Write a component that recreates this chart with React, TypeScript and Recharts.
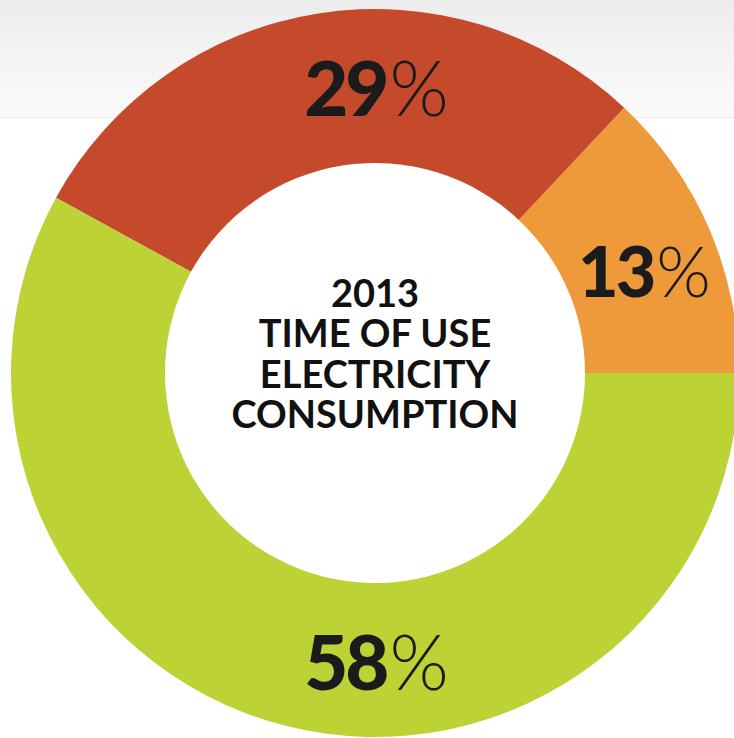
import React from "react";
import { PieChart, Pie, Cell } from "recharts";

const categories = ["Off-peak", "Mid-peak", "On-peak"];
const shares = [13, 29, 58];
const colors = ["#EE9A3A", "#C54A2C", "#BCD235"];
const centerLines = ["2013", "TIME OF USE", "ELECTRICITY", "CONSUMPTION"];

const data = categories.map((name, i) => ({ name, value: shares[i] }));

// angular nudges (degrees) for label placement, per slice index
const labelNudge = [-2.4, -9, 14.4];

const RADIAN = Math.PI / 180;

const renderLabel = (props: any) => {
  const { cx, cy, midAngle, innerRadius, outerRadius, index, value } = props;
  const r = (innerRadius + outerRadius) / 2;
  const a = (midAngle + labelNudge[index]) * RADIAN;
  const x = cx + r * Math.cos(a);
  const y = cy - r * Math.sin(a);
  return (
    <g>
      <text
        x={x}
        y={y}
        textAnchor="middle"
        dominantBaseline="central"
        fill="#1b1b1b"
        fontFamily="Lato, sans-serif"
        fontSize={index === 0 ? 70 : 76}
        letterSpacing={-3}
      >
        <tspan fontWeight={900}>{value}</tspan>
        <tspan fontWeight={300} dx={3}>%</tspan>
      </text>
      {index === 0 && (
        <text
          x={cx}
          y={cy - 66}
          textAnchor="middle"
          fill="#111"
          fontFamily="Lato, sans-serif"
          fontWeight={700}
          fontSize={38}
        >
          {centerLines.map((t, i) => (
            <tspan key={t} x={cx} dy={i === 0 ? 0 : 40.3}>
              {t}
            </tspan>
          ))}
        </text>
      )}
    </g>
  );
};

export default function App() {
  return (
    <div
      style={{
        position: "absolute",
        left: 0,
        top: 0,
        width: 734,
        height: 738,
        overflow: "hidden",
        background: "#ffffff",
      }}
    >
      <div
        style={{
          position: "absolute",
          left: 0,
          top: 0,
          width: 734,
          height: 117,
          background: "linear-gradient(#ECECEC, #FBFBFB)",
          borderBottom: "1px solid #EDEDED",
        }}
      />
      <div style={{ position: "absolute", left: 0, top: 0 }}>
        <PieChart width={734} height={738} margin={{ top: 0, right: 0, bottom: 0, left: 0 }}>
          <Pie
            data={data}
            dataKey="value"
            nameKey="name"
            cx={375}
            cy={373}
            innerRadius={210}
            outerRadius={364}
            startAngle={0}
            endAngle={360}
            stroke="none"
            isAnimationActive={false}
            label={renderLabel}
            labelLine={false}
          >
            {data.map((d, i) => (
              <Cell key={d.name} fill={colors[i]} />
            ))}
          </Pie>
        </PieChart>
      </div>
    </div>
  );
}
